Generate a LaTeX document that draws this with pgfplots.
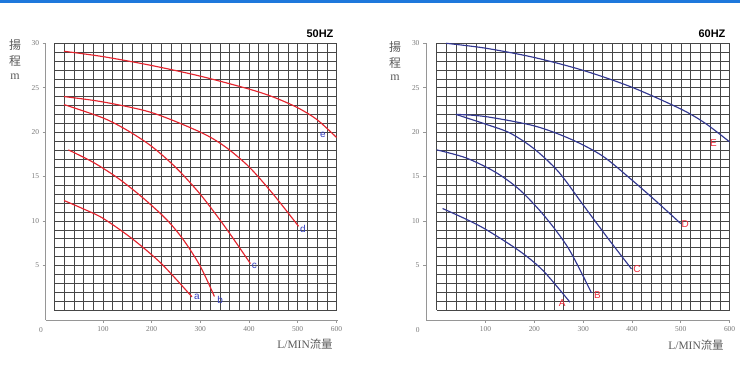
\documentclass[border=0pt]{standalone}
\usepackage{fontspec}
\setmainfont{Liberation Serif}
\newfontfamily\cjk{Noto Sans CJK TC}
\newfontfamily\hzfont{Liberation Sans}
\usepackage{pgfplots}
\pgfplotsset{compat=1.18}
\definecolor{gridc}{RGB}{70,70,70}
\definecolor{axisgray}{RGB}{150,150,150}
\definecolor{redc}{RGB}{228,35,45}
\definecolor{bluec}{RGB}{50,55,145}
\definecolor{lblblue}{RGB}{50,60,190}
\definecolor{lblred}{RGB}{240,45,60}
\definecolor{topblue}{RGB}{30,120,220}
\definecolor{txtgray}{RGB}{120,120,120}
\definecolor{labgray}{RGB}{90,90,90}
\pgfplotsset{
  pump/.style={
    scale only axis, axis lines=left,
    axis line style={axisgray, line width=0.7bp, -},
    tick style={axisgray, line width=0.6bp}, tick align=outside,
    major tick length=3bp,
    ytick={5,10,...,30},
    tick label style={font=\fontsize{7.5}{8}\selectfont, text=txtgray},
    /pgf/number format/assume math mode=true,
    clip=false, ymin=-1.15, ymax=30, height=276.7bp,
  },
  crv/.style={line width=1.15bp, smooth},
}
\tikzset{lbl/.style={font=\hzfont\fontsize{10}{10}\selectfont}}
\begin{document}
\begin{tikzpicture}
\path (0bp,0bp) rectangle (740bp,369bp);
\fill[topblue] (0bp,366bp) rectangle (740bp,369bp);

% ---------- 50 HZ ----------
\begin{axis}[pump, at={(45.7bp,49bp)}, anchor=south west,
  width=291.8bp, xmin=-17.7, xmax=582,
  xtick={100,200,300,400,500,580}, xticklabels={100,200,300,400,500,600}]
\pgfplotsinvokeforeach{0,20,...,580}{\draw[gridc, line width=0.5bp] (axis cs:#1,0) -- (axis cs:#1,30);}
\pgfplotsinvokeforeach{0,...,30}{\draw[gridc, line width=0.5bp] (axis cs:0,#1) -- (axis cs:580,#1);}
\addplot[crv, redc] coordinates {(20,29.1) (100,28.5) (200,27.5) (300,26.3) (400,24.85) (450,23.95) (500,22.75) (540,21.4) (580,19.4)};
\addplot[crv, redc] coordinates {(20,24.0) (100,23.4) (200,22.2) (300,20.0) (350,18.4) (400,16.1) (450,13.0) (502,9.4)};
\addplot[crv, redc] coordinates {(20,23.1) (100,21.6) (150,20.2) (200,18.4) (250,16.0) (300,13.0) (350,9.4) (403,5.2)};
\addplot[crv, redc] coordinates {(29,18.0) (80,16.6) (130,14.85) (180,12.7) (230,10.2) (265,7.9) (300,4.9) (329,1.5)};
\addplot[crv, redc] coordinates {(20,12.3) (60,11.35) (100,10.3) (160,8.0) (220,5.2) (283,1.45)};
\node[lbl, text=lblblue] at (axis cs:552,19.7) {e};
\node[lbl, text=lblblue] at (axis cs:511,9.1) {d};
\node[lbl, text=lblblue] at (axis cs:411,4.9) {c};
\node[lbl, text=lblblue] at (axis cs:341,1.1) {b};
\node[lbl, text=lblblue] at (axis cs:293,1.4) {a};
\end{axis}
\node[font=\fontsize{7.5}{8}\selectfont, text=txtgray] at (41bp,39bp) {0};
\node[font=\hzfont\bfseries\fontsize{11}{11}\selectfont] at (320bp,335bp) {50HZ};
\node[font=\cjk\fontsize{12}{12}\selectfont, text=labgray] at (15bp,324bp) {揚};
\node[font=\cjk\fontsize{12}{12}\selectfont, text=labgray] at (15bp,307.5bp) {程};
\node[font=\fontsize{12}{12}\selectfont, text=labgray] at (15bp,292bp) {m};
\node[font=\fontsize{11.5}{12}\selectfont, text=labgray] at (305bp,24.5bp) {L/MIN{\cjk 流量}};

% ---------- 60 HZ ----------
\begin{axis}[pump, at={(426bp,49bp)}, anchor=south west,
  width=303.6bp, xmin=-22, xmax=600,
  xtick={100,200,...,600}]
\pgfplotsinvokeforeach{0,20,...,600}{\draw[gridc, line width=0.5bp] (axis cs:#1,0) -- (axis cs:#1,30);}
\pgfplotsinvokeforeach{0,...,30}{\draw[gridc, line width=0.5bp] (axis cs:0,#1) -- (axis cs:600,#1);}
\addplot[crv, bluec] coordinates {(19,30.0) (100,29.45) (200,28.4) (300,26.95) (400,25.05) (500,22.6) (550,21.0) (600,18.9)};
\addplot[crv, bluec] coordinates {(39,22.0) (100,21.75) (200,20.7) (275,19.2) (340,17.3) (400,14.6) (450,12.2) (500,9.7)};
\addplot[crv, bluec] coordinates {(39,22.0) (100,20.9) (150,19.9) (200,18.1) (250,15.5) (300,11.8) (350,8.1) (399,4.6)};
\addplot[crv, bluec] coordinates {(0,18.0) (60,17.1) (120,15.5) (170,13.5) (220,10.6) (270,6.9) (317,1.9)};
\addplot[crv, bluec] coordinates {(12,11.4) (60,10.2) (102,9.0) (170,6.6) (218,4.4) (273,0.85)};
\node[lbl, text=lblred] at (axis cs:567,18.8) {E};
\node[lbl, text=lblred] at (axis cs:509,9.7) {D};
\node[lbl, text=lblred] at (axis cs:410,4.6) {C};
\node[lbl, text=lblred] at (axis cs:329,1.6) {B};
\node[lbl, text=lblred] at (axis cs:257,0.8) {A};
\end{axis}
\node[font=\fontsize{7.5}{8}\selectfont, text=txtgray] at (417.7bp,39bp) {0};
\node[font=\hzfont\bfseries\fontsize{11}{11}\selectfont] at (712bp,335bp) {60HZ};
\node[font=\cjk\fontsize{12}{12}\selectfont, text=labgray] at (395bp,322.3bp) {揚};
\node[font=\cjk\fontsize{12}{12}\selectfont, text=labgray] at (395bp,305.7bp) {程};
\node[font=\fontsize{12}{12}\selectfont, text=labgray] at (395bp,291.7bp) {m};
\node[font=\fontsize{11.5}{12}\selectfont, text=labgray] at (696bp,24bp) {L/MIN{\cjk 流量}};
\end{tikzpicture}
\end{document}
